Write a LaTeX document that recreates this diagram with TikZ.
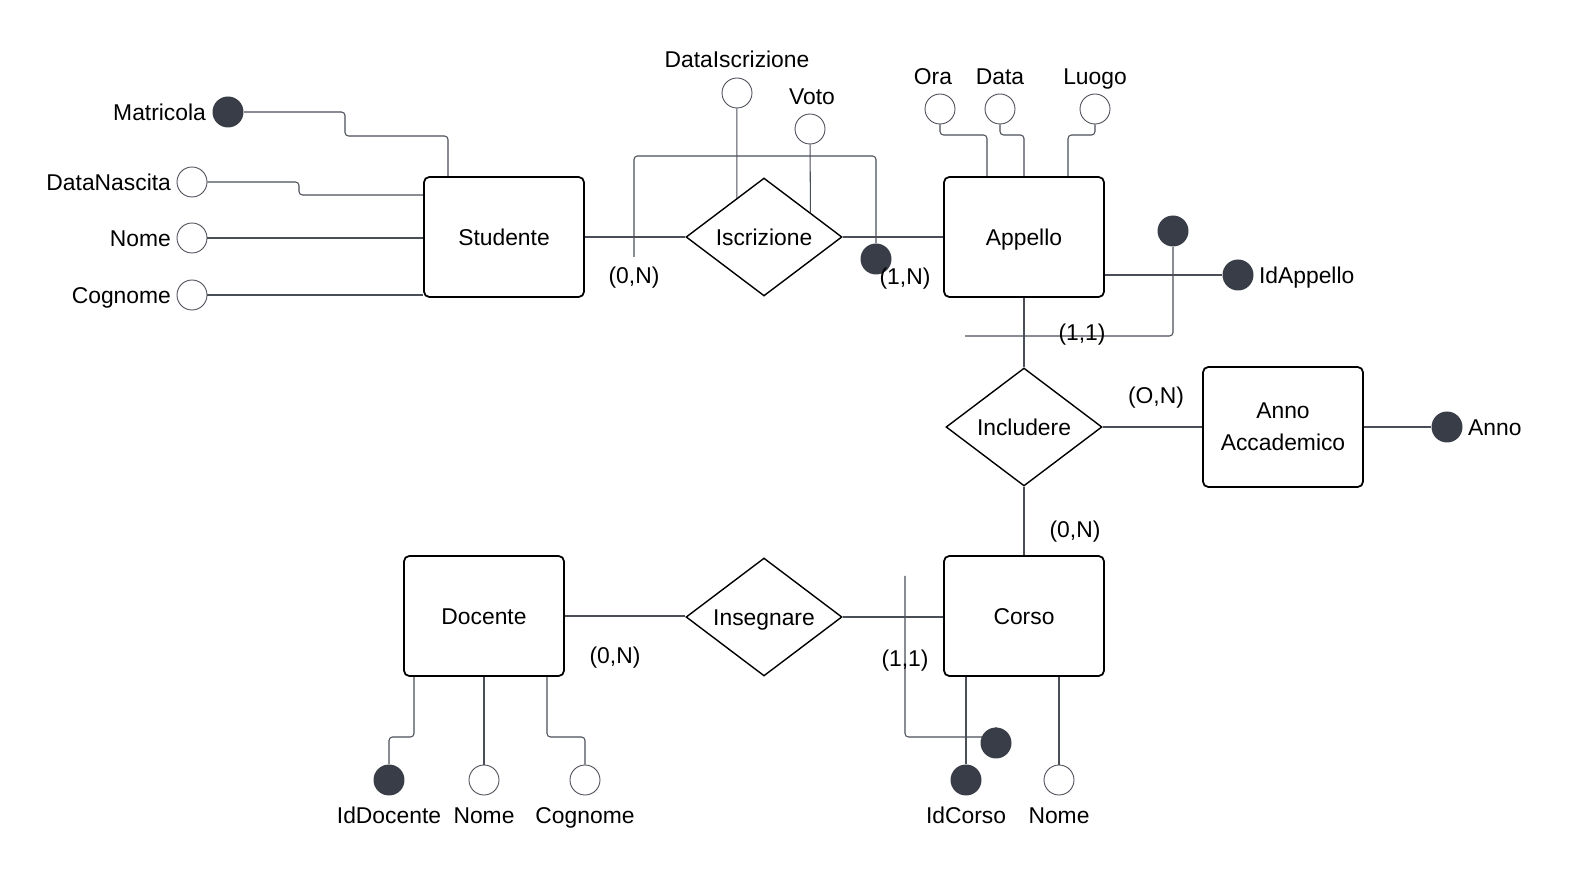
\documentclass[tikz,border=0pt]{standalone}
\usepackage{fontspec}
\setmainfont{Liberation Sans}
\usetikzlibrary{shapes.geometric,calc,backgrounds}

\definecolor{keyfill}{HTML}{383D47}
\definecolor{linegray}{HTML}{4A4E57}

\tikzset{
  entity/.style={draw=black, line width=1pt, rounded corners=3pt, fill=white,
    minimum width=3.2cm, minimum height=2.4cm, align=center, text height=9.4pt, text depth=0pt,
    font=\fontsize{13}{17}\selectfont},
  relation/.style={diamond, draw=black, line width=0.8pt, fill=white, aspect=1.32,
    minimum width=3.12cm, minimum height=2.36cm, inner sep=0pt, text height=9.4pt, text depth=0pt,
    font=\fontsize{13}{15}\selectfont},
  attr/.style={circle, draw=linegray, line width=0.5pt, fill=white, minimum size=0.6cm, inner sep=0pt},
  key/.style={circle, fill=keyfill, minimum size=0.62cm, inner sep=0pt},
  link/.style={draw=linegray, line width=0.6pt, rounded corners=2pt},
  lbl/.style={font=\fontsize{13}{15}\selectfont, inner sep=1pt, text height=9.4pt, text depth=0pt},
}

\begin{document}
\begin{tikzpicture}[x=0.02cm, y=-0.02cm]
  \useasboundingbox (0,0) rectangle (1570,874);

  % Entities
  \node[entity] (studente) at (504,237) {Studente};
  \node[entity] (appello) at (1024,237) {Appello};
  \node[entity] (annoacc) at (1283,427) {};
  \node[align=center, font=\fontsize{13}{18}\selectfont] (annoacctxt) at (annoacc) {Anno\\Accademico};
  \node[entity] (docente) at (484,616) {Docente};
  \node[entity] (corso) at (1024,616) {Corso};

  % Relations
  \node[relation] (iscrizione) at (764,237) {Iscrizione};
  \node[relation] (includere) at (1024,427) {Includere};
  \node[relation] (insegnare) at (764,617) {Insegnare};

  % Attributes of Studente
  \node[key] (matricola) at (228,112) {};
  \node[attr] (datanascita) at (192,182) {};
  \node[attr] (nomestud) at (192,238) {};
  \node[attr] (cognomestud) at (192,295) {};
  \node[lbl, anchor=east] (matricolatxt) at (208,112) {Matricola};
  \node[lbl, anchor=east] (datanascitatxt) at (173,182) {DataNascita};
  \node[lbl, anchor=east] (nomestudtxt) at (173,238) {Nome};
  \node[lbl, anchor=east] (cognomestudtxt) at (173,295) {Cognome};

  % Attributes of Iscrizione
  \node[attr] (dataiscr) at (737,93) {};
  \node[attr] (voto) at (810,129) {};
  \node[key] (iscrkey) at (876,259) {};
  \node[lbl] (dataiscrtxt) at (737,59) {DataIscrizione};
  \node[lbl] (vototxt) at (812,96) {Voto};

  % Attributes of Appello
  \node[attr] (ora) at (940,109) {};
  \node[attr] (data) at (1000,109) {};
  \node[attr] (luogo) at (1095,109) {};
  \node[key] (appkey) at (1173,231) {};
  \node[key] (idappello) at (1238,275) {};
  \node[lbl] (oratxt) at (933,76) {Ora};
  \node[lbl] (datatxt) at (1000,76) {Data};
  \node[lbl] (luogotxt) at (1095,76) {Luogo};
  \node[lbl, anchor=west] (idappellotxt) at (1257,275) {IdAppello};

  % Attributes of Anno Accademico
  \node[key] (anno) at (1447,427) {};
  \node[lbl, anchor=west] (annotxt) at (1466,427) {Anno};

  % Attributes of Docente
  \node[key] (iddocente) at (389,780) {};
  \node[attr] (nomedoc) at (484,780) {};
  \node[attr] (cognomedoc) at (585,780) {};
  \node[lbl] (iddocentetxt) at (389,815) {IdDocente};
  \node[lbl] (nomedoctxt) at (484,815) {Nome};
  \node[lbl] (cognomedoctxt) at (585,815) {Cognome};

  % Attributes of Corso
  \node[key] (corsokey) at (996,743) {};
  \node[key] (idcorso) at (966,780) {};
  \node[attr] (nomecorso) at (1059,780) {};
  \node[lbl] (idcorsotxt) at (966,815) {IdCorso};
  \node[lbl] (nomecorsotxt) at (1059,815) {Nome};

  % Cardinalities
  \node[lbl] (card1) at (634,275) {(0,N)};
  \node[lbl] (card2) at (905,276) {(1,N)};
  \node[lbl] (card3) at (1082,332) {(1,1)};
  \node[lbl] (card4) at (1156,395) {(O,N)};
  \node[lbl] (card5) at (1075,529) {(0,N)};
  \node[lbl] (card6) at (615,655) {(0,N)};
  \node[lbl] (card7) at (905,658) {(1,1)};

  % Free ends
  \coordinate (iscrfree) at (634,257);
  \coordinate (appfree) at (965,336);
  \coordinate (corsofree) at (905,576);

  \begin{scope}[on background layer]
    % Studente
    \draw[link] (matricola) -- (345,112) |- (448,136) -- (448,136 |- studente.north);
    \draw[link] (datanascita) -- (299,182) |- (studente.west |- 0,195);
    \draw[link] (nomestud) -- (nomestud -| studente.west);
    \draw[link] (cognomestud) -- (cognomestud -| studente.west);
    % Iscrizione
    \draw[link] (studente.east) -- (iscrizione.west);
    \draw[link] (iscrizione.east) -- (appello.west);
    \draw[link] (iscrfree) |- (iscrkey |- 0,156) -- (iscrkey);
    \draw[link] (dataiscr) -- ($(iscrizione.north)!0.346!(iscrizione.west)$);
    \draw[link] (voto) -- ($(iscrizione.north)!0.59!(iscrizione.east)$);
    % Appello
    \draw[link] (ora) |- (987,135) -- (987,135 |- appello.north);
    \draw[link] (data) |- (1024,135) -- (appello.north);
    \draw[link] (luogo) |- (1068,135) -- (1068,135 |- appello.north);
    \draw[link] (appello.east |- idappello) -- (idappello);
    \draw[link] (appkey) |- (appfree);
    % Includere
    \draw[link] (appello.south) -- (includere.north);
    \draw[link] (includere.east) -- (annoacc.west);
    \draw[link] (annoacc.east) -- (anno);
    \draw[link] (includere.south) -- (corso.north);
    % Insegnare
    \draw[link] (docente.east) -- (insegnare.west |- docente.east);
    \draw[link] (insegnare.east) -- (corso.west |- insegnare.east);
    % Docente
    \draw[link] (docente.south -| 414,0) -- (414,737) -| (iddocente);
    \draw[link] (docente.south -| nomedoc) -- (nomedoc);
    \draw[link] (docente.south -| 547,0) -- (547,737) -| (cognomedoc);
    % Corso
    \draw[link] (corsofree) |- (corsokey |- 0,737) -- (corsokey);
    \draw[link] (corso.south -| idcorso) -- (idcorso);
    \draw[link] (corso.south -| nomecorso) -- (nomecorso);
  \end{scope}
\end{tikzpicture}
\end{document}
